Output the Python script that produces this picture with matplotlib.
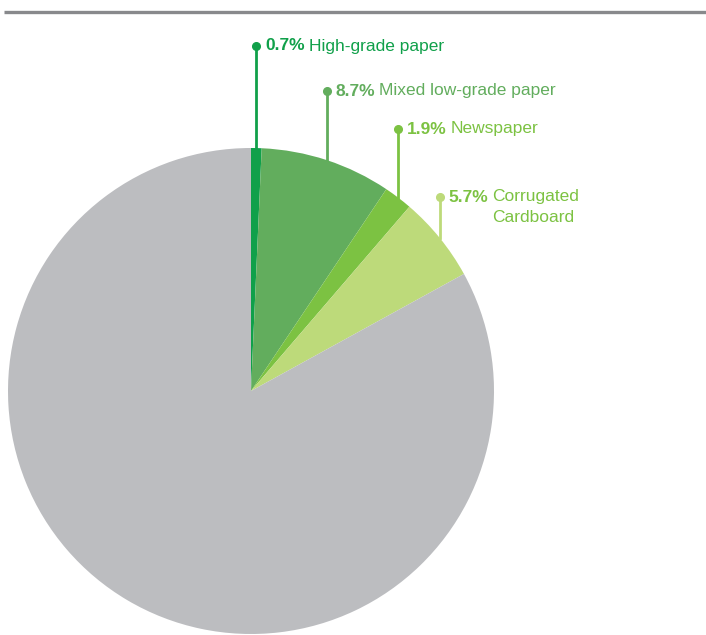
import matplotlib.pyplot as plt
import numpy as np

# Paper share of the waste stream
categories = ['High-grade paper', 'Mixed low-grade paper', 'Newspaper', 'Corrugated\nCardboard', 'Other']
shares = [0.7, 8.7, 1.9, 5.7, 83.0]
wedge_colors = ['#10a04a', '#62ad5d', '#7cc242', '#bdda7a', '#bcbdc0']
text_colors = ['#10a04a', '#62ad5d', '#7cc242', '#7cc242']
dot_colors = ['#10a04a', '#62ad5d', '#7cc242', '#bdda7a']
dot_y = [589, 544, 506, 438]  # label heights, in figure pixels (from bottom)

family = 'Liberation Sans'
fs = 12.5

W, H = 706, 635
fig = plt.figure(figsize=(W / 100, H / 100), dpi=100)
ax = fig.add_axes([0, 0, 1, 1])

cx, cy, r = 251, 244, 243
ax.pie(shares, colors=wedge_colors, startangle=90, counterclock=False,
       center=(cx, cy), radius=r, wedgeprops=dict(linewidth=0))
ax.set_xlim(0, W)
ax.set_ylim(0, H)
ax.set_aspect('auto')
ax.axis('off')

# top rule
ax.plot([4, W], [623, 623], color='#88898c', lw=2.4, solid_capstyle='butt')

fig.canvas.draw()
renderer = fig.canvas.get_renderer()

start = 90.0
for i in range(4):
    sweep = shares[i] * 3.6
    mid = np.deg2rad(start - sweep / 2)
    start -= sweep
    x = cx + r * np.cos(mid)
    y_edge = cy + r * np.sin(mid)
    y = dot_y[i]
    ax.plot([x, x], [y_edge, y], color=dot_colors[i], lw=2, zorder=3)
    ax.plot(x, y, 'o', color=dot_colors[i], ms=5.5, zorder=4)

    t = ax.text(x + 9, y, f'{shares[i]}%', color=text_colors[i], fontsize=fs,
                fontweight='bold', family=family, va='center', ha='left')
    bb = t.get_window_extent(renderer)
    x2 = ax.transData.inverted().transform((bb.x1 + 4, 0))[0]
    for k, line in enumerate(categories[i].split('\n')):
        ax.text(x2, y - 21 * k, line, color=text_colors[i], fontsize=fs,
                family=family, va='center', ha='left')

fig.savefig('out.png', dpi=100)
